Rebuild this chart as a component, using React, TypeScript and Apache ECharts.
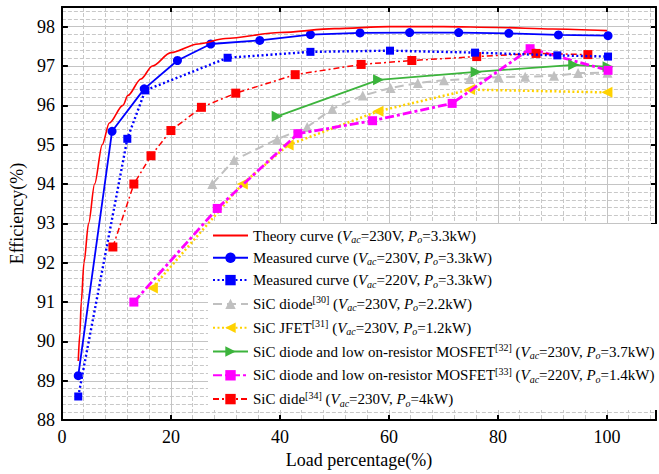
import React, { useEffect, useRef } from "react";
import * as echarts from "echarts";

const FONT = '"Liberation Serif", "Times New Roman", Times, serif';

// ---- data ----
const xMin = 0;
const xMax = 109;
const yMin = 88;
const yMax = 98.5;

const theory: number[][] = [
  [3, 89.5], [3.3, 90.2], [3.55, 91], [4.05, 92], [4.9, 93], [6, 94], [7.4, 95],
  [8.7, 95.55], [11.2, 96], [12.1, 96.25], [14.5, 96.67], [16.6, 97.0], [20, 97.34],
  [25, 97.56], [30, 97.7], [40, 97.85], [50, 97.95], [60, 98.0], [70, 98.0],
  [80, 97.98], [90, 97.94], [100, 97.9],
];
const measured230: number[][] = [
  [3, 89.13], [9.2, 95.34], [15.1, 96.42], [21.2, 97.14], [27.3, 97.56], [36.3, 97.65],
  [45.6, 97.8], [54.7, 97.84], [63.8, 97.85], [72.8, 97.85], [82, 97.83], [91.1, 97.79],
  [100.2, 97.77],
];
const measured220: number[][] = [
  [3, 88.6], [12, 95.15], [15.3, 96.38], [30.4, 97.21], [45.6, 97.36], [60.2, 97.39],
  [75.8, 97.34], [90.9, 97.27], [100.2, 97.24],
];
const sicDiode30: number[][] = [
  [27.6, 94.0], [31.6, 94.61], [39.5, 95.14], [45, 95.45], [49.6, 95.91], [55.2, 96.25],
  [60.3, 96.44], [65.3, 96.57], [70.1, 96.64], [74.8, 96.67], [80.1, 96.72], [85, 96.73],
  [90.3, 96.75], [94.7, 96.82], [100.1, 96.83],
];
const sicJfet31: number[][] = [
  [16.6, 91.36], [33.1, 94.0], [41.5, 94.99], [58, 95.85], [74.8, 96.4], [100, 96.33],
];
const mosfet32: number[][] = [
  [39.5, 95.72], [58.1, 96.65], [76, 96.85], [93.9, 97.03], [100.2, 96.98],
];
const mosfet33: number[][] = [
  [13.2, 91.0], [28.5, 93.38], [43.3, 95.28], [57, 95.61], [71.6, 96.05], [85.9, 97.44],
  [100.2, 96.89],
];
const sicDide34: number[][] = [
  [9.35, 92.4], [13.2, 94.0], [16.35, 94.72], [20, 95.36], [25.6, 95.95], [31.9, 96.31],
  [42.8, 96.78], [54.9, 97.04], [64.2, 97.14], [76.1, 97.24], [87, 97.32], [96.5, 97.29],
];

const seriesNames = [
  "Theory curve",
  "Measured curve 230V",
  "Measured curve 220V",
  "SiC diode [30]",
  "SiC JFET [31]",
  "MOSFET [32]",
  "MOSFET [33]",
  "SiC dide [34]",
];

const legendText: Record<string, string> = {
  "Theory curve": "{n|Theory curve (}{i|V}{sub|ac}{n|=230V, }{i|P}{sub|o}{n|=3.3kW)}",
  "Measured curve 230V": "{n|Measured curve (}{i|V}{sub|ac}{n|=230V, }{i|P}{sub|o}{n|=3.3kW)}",
  "Measured curve 220V": "{n|Measured curve (}{i|V}{sub|ac}{n|=220V, }{i|P}{sub|o}{n|=3.3kW)}",
  "SiC diode [30]": "{n|SiC diode}{sup|[30]}{n| (}{i|V}{sub|ac}{n|=230V, }{i|P}{sub|o}{n|=2.2kW)}",
  "SiC JFET [31]": "{n|SiC JFET}{sup|[31]}{n| (}{i|V}{sub|ac}{n|=230V, }{i|P}{sub|o}{n|=1.2kW)}",
  "MOSFET [32]": "{n|SiC diode and low on-resistor MOSFET}{sup|[32]}{n| (}{i|V}{sub|ac}{n|=230V, }{i|P}{sub|o}{n|=3.7kW)}",
  "MOSFET [33]": "{n|SiC diode and low on-resistor MOSFET}{sup|[33]}{n| (}{i|V}{sub|ac}{n|=220V, }{i|P}{sub|o}{n|=1.4kW)}",
  "SiC dide [34]": "{n|SiC dide}{sup|[34]}{n| (}{i|V}{sub|ac}{n|=230V, }{i|P}{sub|o}{n|=4kW)}",
};

const GRID_SOLID = "#c4c4c4";
const GRID_DASH = "#c8c8c8";

export default function App() {
  const ref = useRef<HTMLDivElement>(null);
  useEffect(() => {
    if (!ref.current) return;
    const chart = echarts.init(ref.current, undefined, { renderer: "svg" });
    const fs = 15;
    const legendData = seriesNames.map((n, k) =>
      k === 0 ? { name: n, itemStyle: { opacity: 0, color: "rgba(0,0,0,0)" } } : { name: n }
    );
    const option: any = {
      animation: false,
      backgroundColor: "#fff",
      grid: { left: 60, right: 3, top: 7, bottom: 50 },
      xAxis: [
        {
          type: "value", position: "bottom", min: xMin, max: xMax, interval: 4,
          axisLine: { show: false }, axisTick: { show: false }, axisLabel: { show: false },
          splitLine: { show: true, lineStyle: { color: GRID_DASH, type: [4, 2], width: 1 } },
        },
        {
          type: "value", position: "bottom", min: xMin, max: xMax, interval: 20,
          name: "Load percentage(%)", nameLocation: "middle", nameGap: 27,
          nameTextStyle: { fontFamily: FONT, fontSize: 18, color: "#000" },
          axisLine: { show: true, onZero: false, lineStyle: { color: "#000", width: 2 } },
          axisTick: { show: true, inside: true, length: 5, lineStyle: { color: "#000", width: 2 } },
          axisLabel: {
            fontFamily: FONT, fontSize: 18, color: "#000", margin: 8,
            formatter: (v: number) => (v % 20 === 0 ? String(v) : ""),
          },
          splitLine: { show: true, lineStyle: { color: GRID_SOLID, width: 1 } },
        },
        {
          type: "value", position: "top", min: xMin, max: xMax, interval: 20,
          axisLine: { show: true, onZero: false, lineStyle: { color: "#000", width: 2 } },
          axisTick: { show: true, inside: true, length: 5, lineStyle: { color: "#000", width: 2 } },
          axisLabel: { show: false }, splitLine: { show: false },
        },
      ],
      yAxis: [
        {
          type: "value", position: "left", min: yMin, max: yMax, interval: 0.2,
          axisLine: { show: false }, axisTick: { show: false }, axisLabel: { show: false },
          splitLine: { show: true, lineStyle: { color: GRID_DASH, type: [4, 2], width: 1 } },
        },
        {
          type: "value", position: "left", min: yMin, max: yMax, interval: 1,
          name: "Efficiency(%)", nameLocation: "middle", nameGap: 31, nameRotate: 90,
          nameTextStyle: { fontFamily: FONT, fontSize: 18, color: "#000" },
          axisLine: { show: true, onZero: false, lineStyle: { color: "#000", width: 2 } },
          axisTick: { show: true, inside: true, length: 6, lineStyle: { color: "#000", width: 2 } },
          axisLabel: {
            fontFamily: FONT, fontSize: 18, color: "#000", margin: 7,
            formatter: (v: number) => (Math.abs(v - Math.round(v)) < 1e-6 ? String(Math.round(v)) : ""),
          },
          splitLine: { show: true, lineStyle: { color: GRID_SOLID, width: 1 } },
        },
        {
          type: "value", position: "right", min: yMin, max: yMax, interval: 1,
          axisLine: { show: true, onZero: false, lineStyle: { color: "#000", width: 2 } },
          axisTick: { show: true, inside: true, length: 5, lineStyle: { color: "#000", width: 2 } },
          axisLabel: { show: false }, splitLine: { show: false },
        },
      ],
      legend: {
        orient: "vertical",
        left: 208,
        top: 224,
        padding: [4, 6, 2, 4],
        backgroundColor: "#fff",
        itemWidth: 35,
        itemHeight: 13,
        itemGap: 5.8,
        data: legendData,
        formatter: (name: string) => legendText[name],
        textStyle: {
          fontFamily: FONT, fontSize: fs, color: "#000",
          rich: {
            n: { fontFamily: FONT, fontSize: fs, color: "#000", lineHeight: 18 },
            i: { fontFamily: FONT, fontSize: fs, fontStyle: "italic", color: "#000", lineHeight: 18 },
            sub: { fontFamily: FONT, fontSize: 10, fontStyle: "italic", color: "#000", verticalAlign: "bottom", lineHeight: 10 },
            sup: { fontFamily: FONT, fontSize: 10, color: "#000", verticalAlign: "top", lineHeight: 10 },
          },
        },
      },
      series: [
        {
          name: seriesNames[0], type: "line", xAxisIndex: 1, yAxisIndex: 1, data: theory,
          smooth: 0.3, smoothMonotone: "x", symbol: "none",
          itemStyle: { color: "#ff0000" }, lineStyle: { color: "#ff0000", width: 1.6 }, z: 9,
        },
        {
          name: seriesNames[1], type: "line", xAxisIndex: 1, yAxisIndex: 1, data: measured230,
          symbol: "circle", symbolSize: 9,
          itemStyle: { color: "#0000ff" }, lineStyle: { color: "#0000ff", width: 1.8 }, z: 8,
        },
        {
          name: seriesNames[2], type: "line", xAxisIndex: 1, yAxisIndex: 1, data: measured220,
          symbol: "rect", symbolSize: 8,
          itemStyle: { color: "#0000ff" }, lineStyle: { color: "#0000ff", width: 2.4, type: [2, 2.5] }, z: 7,
        },
        {
          name: seriesNames[3], type: "line", xAxisIndex: 1, yAxisIndex: 1, data: sicDiode30,
          symbol: "triangle", symbolSize: 10,
          itemStyle: { color: "#c0c0c0" }, lineStyle: { color: "#c0c0c0", width: 2, type: [9, 5] }, z: 3,
        },
        {
          name: seriesNames[4], type: "line", xAxisIndex: 1, yAxisIndex: 1, data: sicJfet31,
          symbol: "triangle", symbolSize: 11, symbolRotate: 90,
          itemStyle: { color: "#ffd200" }, lineStyle: { color: "#ffd200", width: 2.5, type: [2, 2.5] }, z: 4,
        },
        {
          name: seriesNames[5], type: "line", xAxisIndex: 1, yAxisIndex: 1, data: mosfet32,
          symbol: "triangle", symbolSize: 11, symbolRotate: -90,
          itemStyle: { color: "#3cb43c" }, lineStyle: { color: "#3cb43c", width: 1.8 }, z: 5,
        },
        {
          name: seriesNames[6], type: "line", xAxisIndex: 1, yAxisIndex: 1, data: mosfet33,
          symbol: "rect", symbolSize: 9,
          itemStyle: { color: "#ff00ff" }, lineStyle: { color: "#ff00ff", width: 2.8, type: [9, 3, 3, 3] }, z: 5,
        },
        {
          name: seriesNames[7], type: "line", xAxisIndex: 1, yAxisIndex: 1, data: sicDide34,
          symbol: "rect", symbolSize: 9,
          itemStyle: { color: "#ff0000" }, lineStyle: { color: "#ff0000", width: 1.5, type: [6, 3, 2, 3] }, z: 6,
        },
      ],
    };
    chart.setOption(option);
    return () => chart.dispose();
  }, []);
  return (
    <div
      ref={ref}
      style={{ position: "fixed", left: 0, top: 0, width: 659, height: 474, background: "#fff" }}
    />
  );
}
